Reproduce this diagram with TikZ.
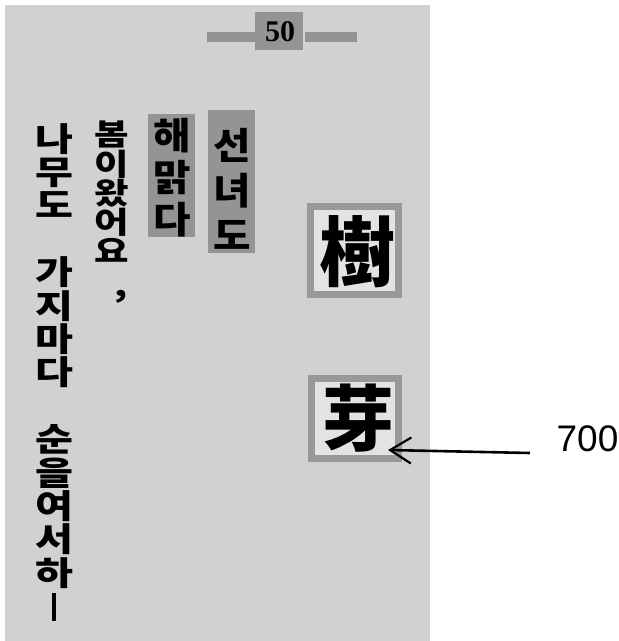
\documentclass[tikz,border=0pt]{standalone}
\usepackage{fontspec}
\newfontfamily\krw[FakeStretch=1.25]{Noto Sans CJK KR Black}
\newfontfamily\krb[FakeStretch=1.1]{Noto Sans CJK KR Black}
\newfontfamily\kr{Noto Sans CJK KR Black}
\newfontfamily\arialf{Liberation Sans}
\newfontfamily\timesf{Liberation Serif}
\usetikzlibrary{arrows.meta}
\begin{document}
\begin{tikzpicture}[x=1pt,y=-1pt,
  pagebg/.style={fill=black!18, draw=none},
  hatchbox/.style={fill=black!42, draw=none, inner sep=0pt},
  framebox/.style={fill=black!11, draw=black!40, line width=7pt, inner sep=0pt},
  kcol/.style={font=\krw\fontsize{33}{33.4}\selectfont, align=center, inner sep=0pt},
  kcolb/.style={align=center, inner sep=0pt},
  bigchar/.style={font=\kr\fontsize{76}{76}\selectfont, inner sep=0pt},
  band/.style={fill=black!42, draw=none, inner sep=0pt, minimum height=10pt},
  lbl/.style={font=\arialf\fontsize{37}{37}\selectfont, inner sep=0pt},
  arr/.style={line width=2.6pt, -{Straight Barb[length=21pt,width=26pt,line width=2.2pt]}}
]
\useasboundingbox (0,0) rectangle (619,641);
\fill[white] (0,0) rectangle (619,641);
% page
\path[pagebg] (5,5) rectangle (430,641);

% page number
\node[band, minimum width=48pt] (bandl) at (231,37) {};
\node[band, minimum width=52pt] (bandr) at (331,37) {};
\node[hatchbox, minimum width=48pt, minimum height=38pt] (numbox) at (279,31) {};
\node[font=\timesf\bfseries\fontsize{30}{30}\selectfont, inner sep=0pt] (num) at (280,32) {50};

% boxed columns
\node[hatchbox, minimum width=47pt, minimum height=143pt] (boxa) at (231.5,181.5) {};
\node[kcolb, font=\krb\fontsize{37}{45}\selectfont] (cola) at (232,189) {선\\녀\\도};
\node[hatchbox, minimum width=47pt, minimum height=123pt] (boxb) at (171.5,175.5) {};
\node[kcolb, font=\krb\fontsize{37}{42}\selectfont] (colb) at (172,178) {해\\맑\\다};

% plain columns
\node[kcol, font=\krw\fontsize{30}{29.3}\selectfont] (colc) at (112,192) {봄\\이\\왔\\어\\요};
\node[font=\krw\fontsize{30}{30}\selectfont, inner sep=0pt] (comma) at (121,297) {,};
\node[kcol] (cold) at (54,372) {나\\무\\도\\\mbox{}\\가\\지\\마\\다\\\mbox{}\\순\\을\\여\\서\\하\\\rule[-2pt]{4pt}{28pt}};

% characters in frames
\node[framebox, minimum width=88pt, minimum height=88pt] (fa) at (354.5,250.5) {};
\node[bigchar] (tree) at (357,252) {樹};
\node[framebox, minimum width=87pt, minimum height=80pt] (fb) at (355,418.5) {};
\node[bigchar, font=\kr\fontsize{72}{72}\selectfont] (bud) at (358,418) {芽};

% label and arrow
\node[lbl] (l700) at (587.5,438.5) {700};
\coordinate (astart) at (530,453);
\coordinate (tip) at (388,450);
\draw[arr] (astart) -- (tip);
\end{tikzpicture}
\end{document}
